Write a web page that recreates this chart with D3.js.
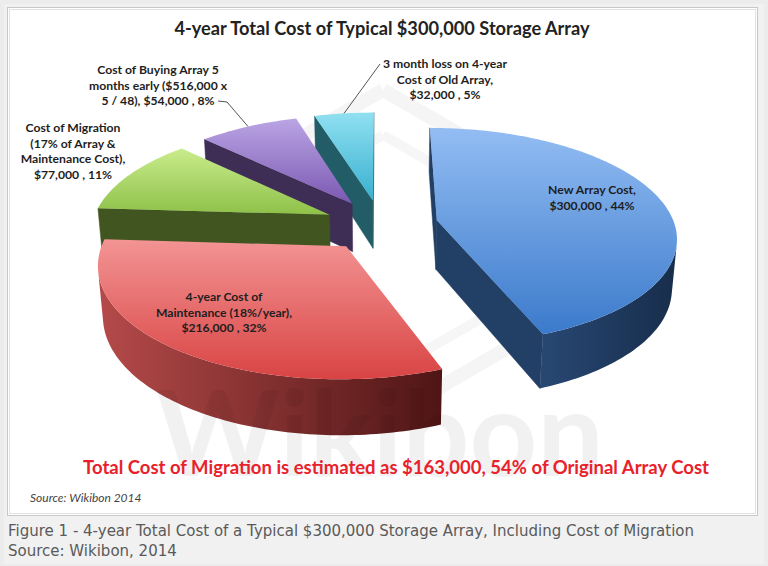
<!DOCTYPE html>
<html>
<head>
<meta charset="utf-8">
<script src="https://cdn.jsdelivr.net/npm/d3@7"></script>
<style>
  body { margin: 0; background: #ececec; }
  svg { display: block; }
</style>
</head>
<body>
<div id="chart"></div>
<script>
var categories = ['New Array Cost', '4-year Cost of Maintenance (18%/year)',
    'Cost of Migration (17% of Array & Maintenance Cost)',
    'Cost of Buying Array 5 months early ($516,000 x 5 / 48)',
    '3 month loss on 4-year Cost of Old Array'];
var values = [300000, 216000, 77000, 54000, 32000];
var labelHead = [
    ['New Array Cost,'],
    ['4-year Cost of', 'Maintenance (18%/year),'],
    ['Cost of Migration', '(17% of Array &', 'Maintenance Cost),'],
    ['Cost of Buying Array 5', 'months early ($516,000 x'],
    ['3 month loss on 4-year', 'Cost of Old Array,']
];
var labelTail = ['', '', '', '5 / 48), ', ''];

var width = 768,
    height = 566;

// colours: top light, top dark, side light, side dark
var colors = [
    ['#93bdf3', '#3b7acb', '#284873', '#172d4b'],
    ['#f39494', '#d94444', '#b54a4a', '#4f1515'],
    ['#c9ec8c', '#8ec149', '#485d24', '#34451a'],
    ['#bba5e4', '#7a58b2', '#46355f', '#2e2145'],
    ['#90e0f1', '#38b0cf', '#276670', '#1a4a54']
];

// fake 3d camera
var cx = 381, cy = 225,
    R = 1, H = 0.235, EXPL = 0.24,
    D = 6.2, F = 1475,
    sinP = 0.45, cosP = Math.sqrt(1 - sinP * sinP),
    cam = [0, D * sinP, -D * cosP];

function proj(p) {
    var depth = D - p[1] * sinP + p[2] * cosP;
    var s = F / depth;
    return [cx + p[0] * s, cy - (p[1] * cosP + p[2] * sinP) * s];
}
function facing(p, n) {
    return (cam[0] - p[0]) * n[0] + (cam[1] - p[1]) * n[1] + (cam[2] - p[2]) * n[2] > 0;
}

var svg = d3.select('#chart').append('svg')
    .attr('width', width)
    .attr('height', height);

var defs = svg.append('defs');

svg.append('rect').attr('x', 4).attr('y', 4).attr('width', 760).attr('height', 560)
    .style('fill', '#f1f1f1');
svg.append('rect').attr('x', 7.5).attr('y', 7.5).attr('width', 750).attr('height', 508)
    .style('fill', '#fff').style('stroke', '#c8c8c8');
svg.append('rect').attr('x', 9.5).attr('y', 9.5).attr('width', 746).attr('height', 504)
    .style('fill', 'none').style('stroke', '#e2e2e2');

// watermark
var hex = function(r) {
    return d3.range(7).map(function(i) {
        var a = Math.PI / 3 * i;
        return [383 + r * Math.sin(a), 255 - r * Math.cos(a)];
    });
};
svg.append('path').attr('d', d3.line()(hex(165)))
    .style('fill', 'none').style('stroke', '#000').style('stroke-width', 14).style('opacity', 0.04);
svg.append('path').attr('d', d3.line()(hex(120)))
    .style('fill', 'none').style('stroke', '#000').style('stroke-width', 10).style('opacity', 0.035);

svg.append('text')
    .attr('x', 382)
    .attr('y', 35)
    .attr('text-anchor', 'middle')
    .style('font-family', 'Lato, sans-serif')
    .style('font-weight', 'bold')
    .style('font-size', '18.2px')
    .style('fill', '#222')
    .text('4-year Total Cost of Typical $300,000 Storage Array');

var arcs = d3.pie().sort(null).value(function(d) { return d; })(values);
var total = d3.sum(values);
var line = d3.line();

arcs.forEach(function(d, i) {
    var m = (d.startAngle + d.endAngle) / 2;
    d.ox = EXPL * Math.sin(m);
    d.oz = EXPL * Math.cos(m);
    d.index = i;

    ['top', 'side'].forEach(function(k, j) {
        var g = defs.append('linearGradient')
            .attr('id', k + i)
            .attr('x1', 0).attr('y1', 0)
            .attr('x2', j ? 1 : 0).attr('y2', j ? 0 : 1);
        g.append('stop').attr('offset', '0%').attr('stop-color', colors[i][j * 2]);
        g.append('stop').attr('offset', '100%').attr('stop-color', colors[i][j * 2 + 1]);
    });
});

var order = arcs.slice().sort(function(a, b) { return b.oz - a.oz; });

var pieG = svg.append('g');

order.forEach(function(d) {
    var i = d.index,
        a0 = d.startAngle, a1 = d.endAngle,
        n = Math.max(4, Math.ceil((a1 - a0) / 0.02)),
        angles = d3.range(n + 1).map(function(k) { return a0 + (a1 - a0) * k / n; });
    var pt = function(a, y) { return [d.ox + R * Math.sin(a), y, d.oz + R * Math.cos(a)]; };
    var apexT = [d.ox, 0, d.oz], apexB = [d.ox, -H, d.oz];
    var radialCol = d3.interpolateRgb(colors[i][2], colors[i][3])(0.35);
    var g = pieG.append('g');

    // radial faces
    [[a0, [-Math.cos(a0), 0, Math.sin(a0)]], [a1, [Math.cos(a1), 0, -Math.sin(a1)]]].forEach(function(f) {
        var mid = pt(f[0], -H / 2).map(function(v, k) { return (v + apexT[k]) / 2; });
        mid[1] = -H / 2;
        if (!facing(mid, f[1])) return;
        var pts = [apexT, pt(f[0], 0), pt(f[0], -H), apexB].map(proj);
        g.append('path')
            .attr('d', line(pts) + 'Z')
            .style('fill', radialCol)
            .style('stroke', radialCol)
            .style('stroke-width', 0.5);
    });

    // outer wall, visible runs only
    var runs = [], cur = null;
    for (var k = 0; k < n; k++) {
        var am = (angles[k] + angles[k + 1]) / 2;
        var vis = facing(pt(am, -H / 2), [Math.sin(am), 0, Math.cos(am)]);
        if (vis) {
            if (!cur) { cur = [angles[k]]; runs.push(cur); }
            cur.push(angles[k + 1]);
        } else cur = null;
    }
    runs.forEach(function(run) {
        var pts = run.map(function(a) { return proj(pt(a, 0)); })
            .concat(run.slice().reverse().map(function(a) { return proj(pt(a, -H)); }));
        g.append('path')
            .attr('d', line(pts) + 'Z')
            .style('fill', 'url(#side' + i + ')');
    });

    // top face
    var topPts = [proj(apexT)].concat(angles.map(function(a) { return proj(pt(a, 0)); }));
    g.append('path')
        .attr('d', line(topPts) + 'Z')
        .style('fill', 'url(#top' + i + ')');
});

// labels
var labelPos = [[592, 190], [224, 297], [73, 128], [158, 70], [445, 64]];
var lineH = 15.6;
var fmt = d3.format(',');

arcs.forEach(function(d, i) {
    var lines = labelHead[i].slice();
    lines.push(labelTail[i] + '$' + fmt(d.value) + ' , ' + Math.round(d.value / total * 100) + '%');
    var t = svg.append('text')
        .attr('text-anchor', 'middle')
        .style('font-family', 'Lato, sans-serif')
        .style('font-weight', 'bold')
        .style('font-size', '12.2px')
        .style('fill', '#1e1e1e');
    lines.forEach(function(s, j) {
        t.append('tspan')
            .attr('x', labelPos[i][0])
            .attr('y', labelPos[i][1] + j * lineH + 4)
            .text(s);
    });
});

// leader lines to the small slices
[[3, [[218, 101], [227, 102]]], [4, [[380, 64]]]].forEach(function(l) {
    var d = arcs[l[0]], m = (d.startAngle + d.endAngle) / 2;
    var end = proj([d.ox + R * Math.sin(m), 0, d.oz + R * Math.cos(m)]);
    svg.append('path')
        .attr('d', line(l[1].concat([end])))
        .style('fill', 'none')
        .style('stroke', '#555')
        .style('stroke-width', 1);
});

svg.append('text')
    .attr('x', 380)
    .attr('y', 476)
    .attr('text-anchor', 'middle')
    .style('font-family', 'Lato, sans-serif')
    .style('font-weight', 'bold')
    .style('font-size', '118px')
    .style('fill', '#000')
    .style('opacity', 0.05)
    .text('Wikibon');

svg.append('text')
    .attr('x', 396)
    .attr('y', 474)
    .attr('text-anchor', 'middle')
    .style('font-family', 'Lato, sans-serif')
    .style('font-weight', 'bold')
    .style('font-size', '18.5px')
    .style('fill', '#e8212b')
    .text('Total Cost of Migration is estimated as $163,000, 54% of Original Array Cost');

svg.append('text')
    .attr('x', 30)
    .attr('y', 502)
    .style('font-family', 'Lato, sans-serif')
    .style('font-style', 'italic')
    .style('font-size', '12px')
    .style('fill', '#444')
    .text('Source: Wikibon 2014');

svg.append('text')
    .attr('x', 8)
    .attr('y', 536)
    .style('font-family', '"DejaVu Sans", Verdana, sans-serif')
    .style('font-size', '15px')
    .style('fill', '#5a5a5a')
    .text('Figure 1 - 4-year Total Cost of a Typical $300,000 Storage Array, Including Cost of Migration');

svg.append('text')
    .attr('x', 8)
    .attr('y', 556)
    .style('font-family', '"DejaVu Sans", Verdana, sans-serif')
    .style('font-size', '15px')
    .style('fill', '#5a5a5a')
    .text('Source: Wikibon, 2014');
</script>
</body>
</html>
